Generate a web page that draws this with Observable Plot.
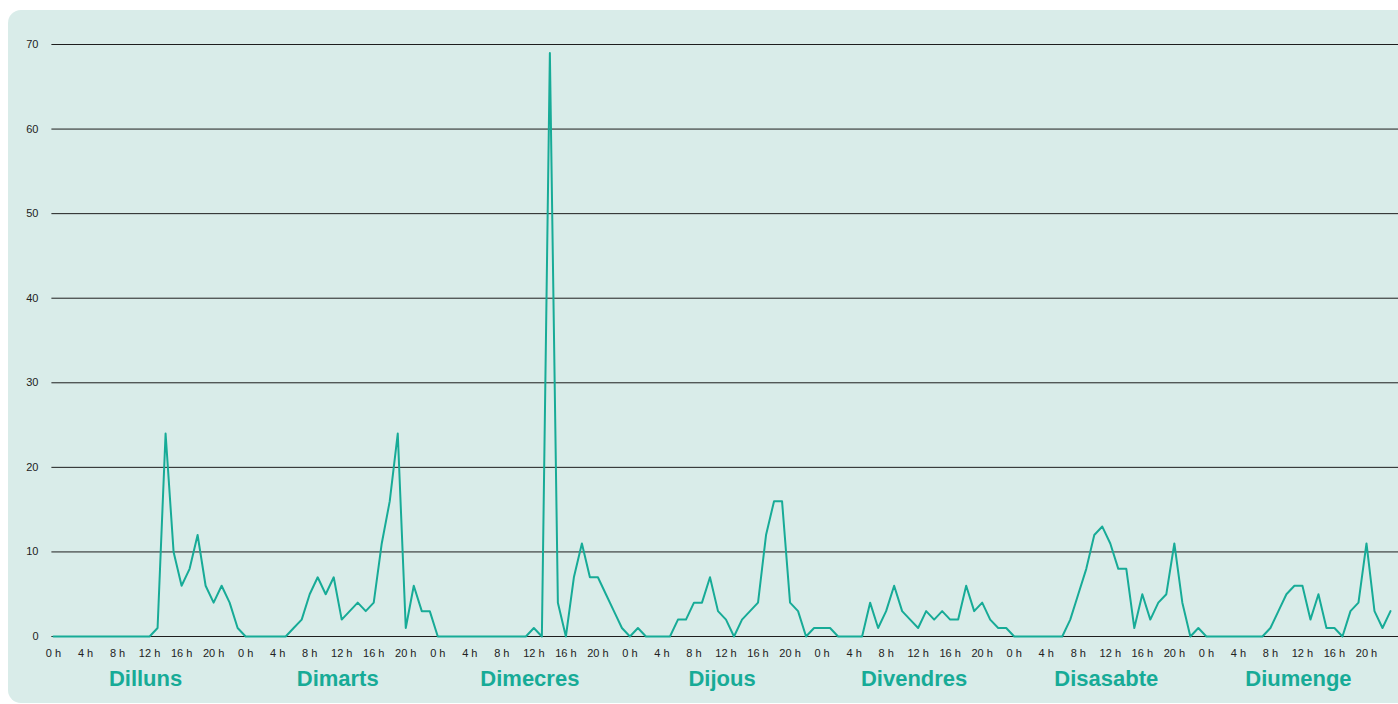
<!DOCTYPE html>
<html>
<head>
<meta charset="utf-8">
<script src="https://cdn.jsdelivr.net/npm/d3@7"></script>
<script src="https://cdn.jsdelivr.net/npm/@observablehq/plot@0.6"></script>
<style>
  html, body { margin: 0; padding: 0; background: #ffffff; }
  body { width: 1398px; height: 704px; position: relative; overflow: hidden; font-family: "Liberation Sans", Arial, sans-serif; }
  #card { position: absolute; left: 8px; top: 10px; width: 1402px; height: 693px; background: #d9ece9; border-radius: 13px; }
  #chart { position: absolute; left: 0; top: 0; }
</style>
</head>
<body>
<div id="card"></div>
<div id="chart"></div>
<script>
// Day names (Catalan)
const days = ["Dilluns", "Dimarts", "Dimecres", "Dijous", "Divendres", "Disasabte", "Diumenge"];
// Hourly values, 0 h .. 23 h, per day
const dilluns   = [0,0,0,0,0,0,0,0,0,0,0,0,0,1,24,10,6,8,12,6,4,6,4,1];
const dimarts   = [0,0,0,0,0,0,1,2,5,7,5,7,2,3,4,3,4,11,16,24,1,6,3,3];
const dimecres  = [0,0,0,0,0,0,0,0,0,0,0,0,1,0,69,4,0,7,11,7,7,5,3,1];
const dijous    = [0,1,0,0,0,0,2,2,4,4,7,3,2,0,2,3,4,12,16,16,4,3,0,1];
const divendres = [1,1,0,0,0,0,4,1,3,6,3,2,1,3,2,3,2,2,6,3,4,2,1,1];
const disasabte = [0,0,0,0,0,0,0,2,5,8,12,13,11,8,8,1,5,2,4,5,11,4,0,1];
const diumenge  = [0,0,0,0,0,0,0,0,1,3,5,6,6,2,5,1,1,0,3,4,11,3,1,3];
// Axis ticks
const hourTicks = d3.range(0, 168, 4);
const yTicks = [0, 10, 20, 30, 40, 50, 60, 70];

const series = [dilluns, dimarts, dimecres, dijous, divendres, disasabte, diumenge];
const data = series.flatMap((vals, d) => vals.map((v, h) => ({i: d * 24 + h, v})));
const dayLabels = days.map((name, d) => ({name, mid: d * 24 + 11.5}));

const teal = "#17ab97";

const chart = Plot.plot({
  width: 1398,
  height: 704,
  marginLeft: 53,
  marginRight: 8,
  marginTop: 44,
  marginBottom: 68,
  style: {background: "transparent", fontFamily: "'Liberation Sans', Arial, sans-serif", overflow: "visible"},
  x: {domain: [0, 167]},
  y: {domain: [0, 70]},
  marks: [
    Plot.ruleY(yTicks, {x1: -0.2, x2: 168, stroke: "#1e1e1e", strokeWidth: 1}),
    Plot.axisY(yTicks, {tickSize: 0, tickPadding: 15, fontSize: 11, fill: "#222", label: null}),
    Plot.axisX(hourTicks, {tickSize: 0, tickPadding: 13, fontSize: 11, fill: "#222", label: null, tickFormat: d => `${d % 24} h`}),
    Plot.line(data, {x: "i", y: "v", stroke: teal, strokeWidth: 2}),
    Plot.text(dayLabels, {x: "mid", text: "name", frameAnchor: "bottom", dy: 49, fontSize: 22, fontWeight: "bold", fill: teal})
  ]
});
document.getElementById("chart").appendChild(chart);
</script>
</body>
</html>
